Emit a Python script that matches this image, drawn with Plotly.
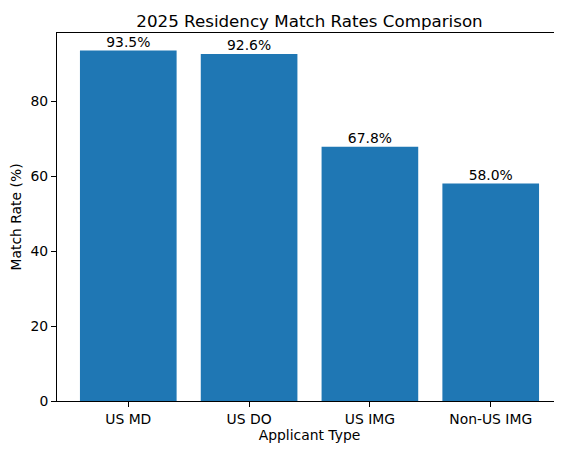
import plotly.graph_objects as go

# 2025 match rates by applicant type
applicant_types = ["US MD", "US DO", "US IMG", "Non-US IMG"]
match_rates = [93.5, 92.6, 67.8, 58.0]
rate_labels = [f"{v:.1f}%" for v in match_rates]

fig = go.Figure(
    go.Bar(
        x=list(range(len(applicant_types))),
        y=match_rates,
        width=0.8,
        marker=dict(color="#1f77b4", line=dict(width=0)),
        cliponaxis=False,
    )
)
# value labels sitting right on top of the bars
fig.add_trace(
    go.Scatter(
        x=list(range(len(applicant_types))),
        y=match_rates,
        mode="text",
        text=rate_labels,
        textposition="top center",
        textfont=dict(family="DejaVu Sans", size=13.9, color="black"),
        cliponaxis=False,
        hoverinfo="skip",
    )
)

axis_common = dict(
    showline=True, linecolor="black", linewidth=1, mirror=True,
    ticks="outside", ticklen=5, tickwidth=1, tickcolor="black",
    showgrid=False, zeroline=False, automargin=False,
    tickfont=dict(family="DejaVu Sans", size=13.9, color="black"),
)

# the page body adds ~8px offset, so margins are shifted to compensate
fig.update_layout(
    width=562, height=455,
    margin=dict(l=49, r=8, t=25, b=62),
    paper_bgcolor="white", plot_bgcolor="white",
    showlegend=False,
    font=dict(family="DejaVu Sans", color="black"),
    title=dict(text="2025 Residency Match Rates Comparison",
               x=0.5, xref="paper", xanchor="center",
               y=1, yref="paper", yanchor="bottom", pad=dict(b=6),
               font=dict(size=16.7, color="black")),
    xaxis=dict(axis_common, range=[-0.59, 3.59],
               tickmode="array", tickvals=list(range(len(applicant_types))),
               ticktext=applicant_types,
               title=dict(text="Applicant Type", standoff=4,
                          font=dict(size=13.9, color="black"))),
    yaxis=dict(axis_common, range=[0, 98.175],
               tickvals=[0, 20, 40, 60, 80],
               title=dict(text="Match Rate (%)", standoff=6,
                          font=dict(size=13.9, color="black"))),
)

fig.write_html("out.html")
